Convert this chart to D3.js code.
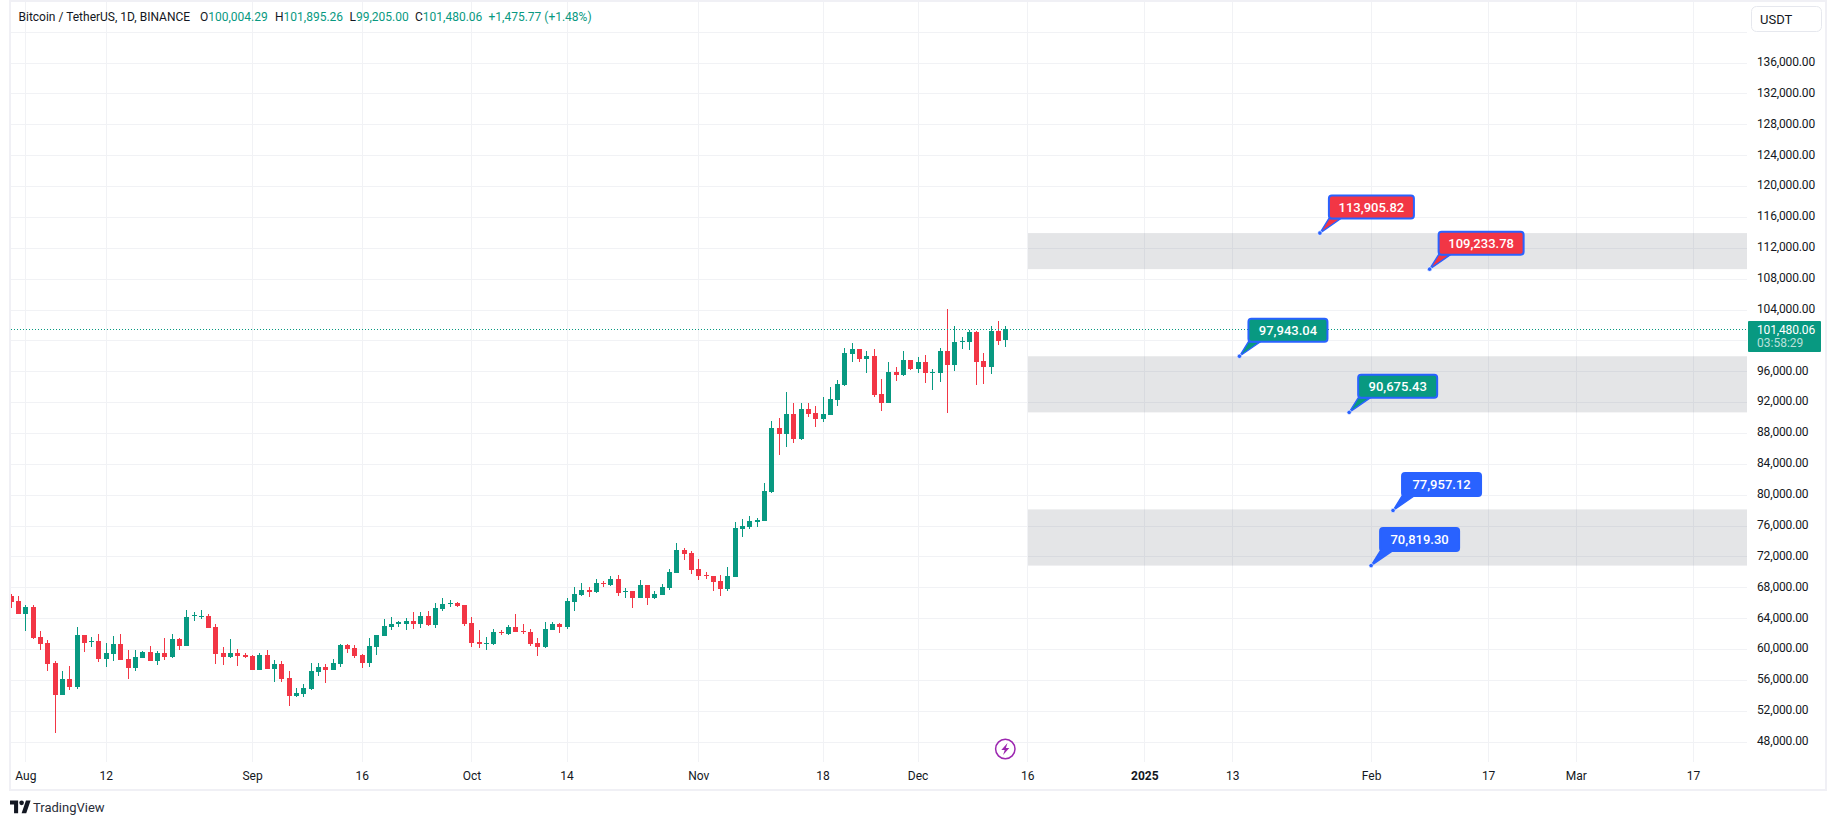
<!DOCTYPE html>
<html>
<head>
<meta charset="utf-8">
<script src="https://cdn.jsdelivr.net/npm/d3@7"></script>
<style>
html,body{margin:0;padding:0;background:#fff;overflow:hidden}
svg{display:block}
text{font-family:Roboto,sans-serif;fill:#131722}
</style>
</head>
<body>
<svg id="c" width="1835" height="825"></svg>
<script>
const firstDay = "2024-07-30";
const opens = [66882,66234,64550,65457,61569,60791,58199,54052,56126,55089,61828,60921,61050,58718,59366,60662,58718,57551,58847,59625,58458,59495,58977,61310,60402,64290,64161,64290,62865,59495,58977,59495,59236,59106,57292,59236,57422,58070,56255,53922,54182,54830,57033,57681,57292,58070,60532,60143,59236,58199,60273,61698,62865,63254,63254,63642,63254,64290,63124,65198,65846,65975,65716,63383,60921,60662,60662,
62260,61958,62865,62346,62217,60791,60273,62476,63254,62865,66105,67012,67660,67401,68567,68308,69086,67401,67530,66623,68308,66623,67012,67919,
69863,72844,72455,70382,69604,69474,68826,67790,69345,75566,75825,76473,76602,
80361,88655,87878,90470,87230,91118,90599,89822,90340,92284,94228,98246,98894,97598,97986,93062,91895,95913,95524,97468,96302,97209,95826,95783,98634,96820,99801,99801,101097,97338,96561,101226,100004.29];
const closes = [66105,64550,65457,61396,60662,58070,54052,56126,55089,61828,60791,61050,58718,59495,60662,58588,57551,58977,59625,58458,59495,58977,61310,60402,64161,64420,64290,62735,59366,58977,59495,59106,58977,57292,59236,57422,58070,56126,53922,54311,54959,57162,57681,57292,58199,60532,60014,59106,58199,60402,61828,62994,63254,63513,63642,63254,64290,63124,65327,65846,65975,65586,63254,60791,60662,60791,62217,
62130,62865,62217,62217,60662,60273,62606,63254,62865,66234,67142,67660,67401,68567,68438,69086,67271,67530,66623,68308,66623,67142,68049,69993,
72844,72326,70252,69474,69474,68697,67790,69474,75695,75954,76602,76732,80490,
88655,87878,90470,87230,91118,90470,89822,90470,92414,94358,98375,98894,97598,97986,92932,91895,95913,95524,97468,96302,97209,95783,95913,98634,96820,99801,99930,101097,97209,96561,101226,99930,101480.06];
const highs = [67142,66882,65716,65716,62346,61180,58458,57162,57810,62865,61828,61569,61958,60791,61698,61958,59884,59884,59754,60402,59754,61439,61958,61439,65068,64809,65068,64550,63254,60273,61310,60014,59495,59236,59495,59884,58588,58458,57162,54959,55478,58199,58199,58070,58718,60662,60662,60532,59366,61439,61828,63902,64161,63642,64031,64809,64809,64938,65975,66623,66364,66105,65716,64161,62476,61569,62606,
62476,63124,64550,63254,62606,61439,63513,63513,63383,66623,68049,68567,68049,69086,68826,69474,69604,67919,67530,68956,68308,67530,68438,70382,
73751,73103,72714,71678,69993,69474,69604,70641,76473,76862,77250,76991,81527,
89562,89951,93321,91895,91895,91895,91506,92673,93969,94876,99023,99671,98894,98634,98894,95006,97209,96561,98634,97468,97857,98116,96302,99023,104078,101874,100449,101356,101226,98375,101874,102522,101895.26];
const lows = [65327,64550,62346,61310,59884,57162,49127,54052,54700,54830,59625,60273,58329,57681,58458,58588,56126,57162,58847,58458,57940,58588,58847,59884,60402,63642,63902,62735,58070,57940,58847,57810,58847,57292,57292,57422,55737,55737,52626,53793,53793,54700,56514,55607,57292,57681,59495,58847,57551,57681,59236,61698,62476,62865,62476,62606,62735,62994,62735,64938,65457,65457,62994,60273,60143,59884,60532,
61828,61828,62217,61958,60402,59106,60143,62476,62087,62606,64938,66882,66753,67271,68049,68178,66882,66623,65327,66623,65716,66494,67012,67660,
69863,71548,69734,68956,69086,67530,66882,67530,69345,74529,75566,75825,76602,
80231,85156,86193,86711,87100,90081,88785,89433,90340,91506,94098,97209,97209,95783,92673,90858,91895,94746,95394,96172,95783,94487,93580,94617,90599,96042,98894,98764,94228,94358,95654,99412,99205];

const timeTickDates = ["2024-08-01","2024-08-12","2024-09-01","2024-09-16","2024-10-01","2024-10-14","2024-11-01","2024-11-18","2024-12-01","2024-12-16","2025-01-01","2025-01-13","2025-02-01","2025-02-17","2025-03-01","2025-03-17"];
const timeTickLabels = ["Aug","12","Sep","16","Oct","14","Nov","18","Dec","16","2025","13","Feb","17","Mar","17"];
const priceTicks = [48000,52000,56000,60000,64000,68000,72000,76000,80000,84000,88000,92000,96000,104000,108000,112000,116000,120000,124000,128000,132000,136000];
const extraGridPrices = [100000,140000];

const zoneStart = "2024-12-16";
const zoneTops = [113905.82,97943.04,78100];
const zoneBottoms = [109233.78,90675.43,70819.30];

const noteDates = ["2025-01-25","2025-02-09","2025-01-14","2025-01-29","2025-02-04","2025-02-01"];
const notePrices = [113905.82,109233.78,97943.04,90675.43,77957.12,70819.30];
const noteKinds = ["down","down","up","up","neutral","neutral"];

const symbolTitle = "Bitcoin / TetherUS, 1D, BINANCE";
const changeText = "+1,475.77 (+1.48%)";
const countdown = "03:58:29";

const UP="#089981", DOWN="#f23645", BLUE="#2962ff", GRID="#f1f2f5", FRAME="#f0f0f5";
const paneL=11, paneR=1747, paneB=762;
const parse=d3.utcParse("%Y-%m-%d");
const start=parse(firstDay);
const x=d3.scaleUtc().domain([start,d3.utcDay.offset(start,137)]).range([10.7,10.7+137*7.314]);
const y=d3.scaleLinear().domain([48000,136000]).range([741.7,741.7-88000*30.87/4000]);
const fmt=d3.format(",.2f");
const svg=d3.select("#c");
svg.append("defs").append("clipPath").attr("id","pane").append("rect").attr("x",paneL).attr("y",2).attr("width",paneR-paneL).attr("height",paneB-2);

const crisp=v=>Math.round(v)+0.5;
// grid
const g=svg.append("g");
g.selectAll("line.v").data(timeTickDates).join("line").attr("class","v")
 .attr("x1",d=>crisp(x(parse(d)))).attr("x2",d=>crisp(x(parse(d)))).attr("y1",2).attr("y2",paneB).attr("stroke",GRID);
g.selectAll("line.h").data(priceTicks.concat(extraGridPrices)).join("line").attr("class","h")
 .attr("x1",paneL).attr("x2",paneR).attr("y1",d=>crisp(y(d))).attr("y2",d=>crisp(y(d))).attr("stroke",GRID);

// zones
svg.append("g").selectAll("rect").data(zoneTops).join("rect")
 .attr("x",Math.round(x(parse(zoneStart)))+1).attr("width",d=>paneR-Math.round(x(parse(zoneStart)))-1)
 .attr("y",d=>y(d)).attr("height",(d,i)=>y(zoneBottoms[i])-y(d))
 .attr("fill","#787b86").attr("fill-opacity",0.2);

// candles
const cg=svg.append("g").attr("clip-path","url(#pane)").attr("shape-rendering","crispEdges");
const idx=d3.range(opens.length);
const cx=i=>x(d3.utcDay.offset(start,i));
const col=i=>closes[i]>=opens[i]?UP:DOWN;
cg.selectAll("rect.w").data(idx).join("rect").attr("class","w")
 .attr("x",i=>Math.round(cx(i))).attr("width",1)
 .attr("y",i=>Math.round(y(highs[i]))).attr("height",i=>Math.max(1,Math.round(y(lows[i]))-Math.round(y(highs[i]))))
 .attr("fill",col);
cg.selectAll("rect.b").data(idx).join("rect").attr("class","b")
 .attr("x",i=>Math.round(cx(i))-2).attr("width",5)
 .attr("y",i=>Math.round(y(Math.max(opens[i],closes[i]))))
 .attr("height",i=>Math.max(1,Math.round(y(Math.min(opens[i],closes[i])))-Math.round(y(Math.max(opens[i],closes[i])))))
 .attr("fill",col);

// last price line
const last=opens.length-1;
svg.append("line").attr("x1",paneL).attr("x2",paneR).attr("y1",crisp(y(closes[last]))).attr("y2",crisp(y(closes[last])))
 .attr("stroke",UP).attr("stroke-dasharray","1 2").attr("shape-rendering","crispEdges");

// callouts
const nFill={down:DOWN,up:UP,neutral:BLUE};
const boxDy=-37.5, boxDx=9, boxH=23;
const notes=svg.append("g");
notePrices.forEach((p,i)=>{
  const px=x(parse(noteDates[i])), py=y(p), label=fmt(p);
  const w=p>=100000?85:79;
  const n=notes.append("g").attr("transform",`translate(${px},${py})`);
  n.append("path").attr("d",`M0,0L${boxDx},${boxDy+boxH}L${boxDx+12},${boxDy+boxH}Z`)
   .attr("fill",nFill[noteKinds[i]]).attr("stroke",BLUE).attr("stroke-width",1.4);
  n.append("circle").attr("r",2.2).attr("fill",BLUE).attr("stroke","#fff").attr("stroke-width",.6);
  n.append("rect").attr("x",boxDx).attr("y",boxDy).attr("width",w).attr("height",boxH).attr("rx",3)
   .attr("fill",nFill[noteKinds[i]]).attr("stroke",BLUE).attr("stroke-width",2);
  n.append("text").attr("x",boxDx+w/2).attr("y",boxDy+boxH/2+4.5).attr("text-anchor","middle")
   .attr("font-size",13).attr("font-weight",500).style("fill","#fff").text(label);
});

// axes
const xAxis=d3.axisBottom(x).tickValues(timeTickDates.map(parse)).tickSize(0).tickPadding(9.5)
 .tickFormat((d,i)=>timeTickLabels[i]);
const xg=svg.append("g").attr("transform",`translate(0,${paneB})`).call(xAxis);
xg.select(".domain").remove();
xg.selectAll("text").attr("font-size",12).style("font-family","Roboto,sans-serif").style("fill","#131722")
 .attr("font-weight",(d,i)=>timeTickLabels[i]==="2025"?700:400);

const yAxis=d3.axisRight(y).tickValues(priceTicks).tickSize(0).tickPadding(10).tickFormat(fmt);
const yg=svg.append("g").attr("transform",`translate(${paneR},-1)`).call(yAxis);
yg.select(".domain").remove();
yg.selectAll("text").attr("font-size",12).style("font-family","Roboto,sans-serif").style("fill","#131722").style("letter-spacing","-0.15px");

// last price tag
const tagY=Math.round(y(closes[last]))-8;
svg.append("rect").attr("x",1748).attr("y",tagY).attr("width",73).attr("height",31).attr("rx",1).attr("fill",UP);
svg.append("text").attr("x",1757).attr("y",tagY+12.5).attr("font-size",12).style("letter-spacing","-0.15px").style("fill","#fff").text(fmt(closes[last]));
svg.append("text").attr("x",1757).attr("y",tagY+26).attr("font-size",12).style("fill","rgba(255,255,255,.72)").text(countdown);

// frame
svg.append("rect").attr("x",10).attr("y",1).attr("width",1816).attr("height",789).attr("fill","none").attr("stroke",FRAME).attr("stroke-width",2);

// USDT button
svg.append("rect").attr("x",1751.5).attr("y",6.5).attr("width",70).attr("height",25).attr("rx",5).attr("fill","#fff").attr("stroke","#e6e8ee");
svg.append("text").attr("x",1760).attr("y",24).attr("font-size",13).text("USDT");

// legend
const lg=svg.append("g").attr("font-size",12);
lg.append("text").attr("x",18.5).attr("y",21).text(symbolTitle);
const legendLetters=["O","H","L","C"];
const legendX=[200,275,349.5,415];
const legendVals=[opens[last],highs[last],lows[last],closes[last]];
legendLetters.forEach((k,i)=>{
  const t=lg.append("text").attr("x",legendX[i]).attr("y",21);
  t.append("tspan").text(k);
  t.append("tspan").style("fill",UP).text(fmt(legendVals[i]));
});
lg.append("text").attr("x",488.5).attr("y",21).style("fill",UP).text(changeText);

// lightning badge
const bolt=svg.append("g").attr("transform","translate(1005.3,749)");
bolt.append("circle").attr("r",9.7).attr("fill","#fff").attr("stroke","#9c27b0").attr("stroke-width",1.5);
bolt.append("path").attr("d","M2.2,-6L-4,1H-0.6L-2.2,6L4,-1H0.6Z").attr("fill","#9c27b0");

// TradingView logo
const logo=svg.append("g").attr("transform","translate(10,800.5) scale(0.58)");
logo.append("path").attr("d","M14 22H7V7H0V0h14v22zM28 22h-8l7.5-22h8L28 22z").attr("fill","#131722");
logo.append("circle").attr("cx",20).attr("cy",4).attr("r",4).attr("fill","#131722");
svg.append("text").attr("x",33).attr("y",812).attr("font-size",13).style("fill","#2a2e39").text("TradingView");
</script>
</body>
</html>
